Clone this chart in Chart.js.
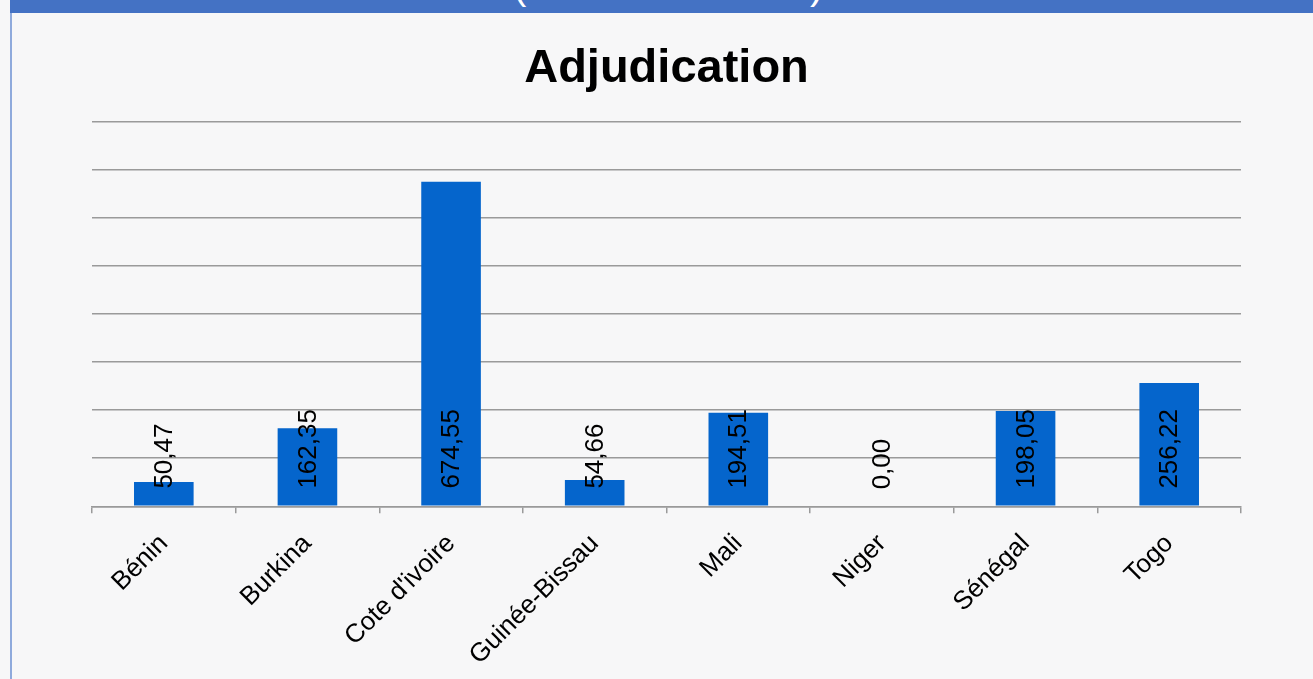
<!DOCTYPE html>
<html>
<head>
<meta charset="utf-8">
<script src="https://cdn.jsdelivr.net/npm/chart.js@4.4.1/dist/chart.umd.min.js"></script>
<style>
  html, body { margin: 0; padding: 0; }
  body {
    width: 1313px; height: 679px; overflow: hidden; position: relative;
    background: #f7f7f8;
    font-family: 'Liberation Sans', Arial, sans-serif;
  }
  #header {
    position: absolute; left: 10px; top: 0; width: 1303px; height: 13px;
    background: #4472c4; overflow: hidden; z-index: 2;
  }
  #header span {
    position: absolute; top: -38px; color: #fff; font-size: 40px; line-height: 46px;
  }
  #leftline {
    position: absolute; left: 10px; top: 13px; width: 2px; height: 666px; background: #8faadc; z-index: 2;
  }
  #wrap { position: absolute; left: 0; top: 0; width: 1313px; height: 686px; }
</style>
</head>
<body>
<div id="header"><span style="left:503px">(</span><span style="left:800px">)</span></div>
<div id="leftline"></div>
<div id="wrap"><canvas id="myChart"></canvas></div>
<script>
// Données du graphique
const pays = ['Bénin', 'Burkina', "Cote d'ivoire", 'Guinée-Bissau', 'Mali', 'Niger', 'Sénégal', 'Togo'];
const adjudication = [50.47, 162.35, 674.55, 54.66, 194.51, 0.00, 198.05, 256.22];
const yTicks = [0, 100, 200, 300, 400, 500, 600, 700, 800];

const police = "'Liberation Sans', Arial, sans-serif";

// Etiquettes verticales dans les barres
const etiquettes = {
    id: 'etiquettes',
    afterDatasetsDraw(chart) {
        const ctx = chart.ctx;
        const meta = chart.getDatasetMeta(0);
        ctx.save();
        ctx.font = '26px ' + police;
        ctx.fillStyle = '#000';
        ctx.textAlign = 'left';
        ctx.textBaseline = 'middle';
        meta.data.forEach((bar, i) => {
            const texte = adjudication[i].toFixed(2).replace('.', ',');
            ctx.save();
            ctx.translate(bar.x + 1, bar.base - 17);
            ctx.rotate(-Math.PI / 2);
            ctx.fillText(texte, 0, 0);
            ctx.restore();
        });
        ctx.restore();
    }
};

const ctx = document.getElementById('myChart').getContext('2d');
new Chart(ctx, {
    type: 'bar',
    data: {
        labels: pays,
        datasets: [{
            label: 'Adjudication',
            data: adjudication,
            backgroundColor: '#0565cc',
            borderWidth: 0,
            categoryPercentage: 1,
            barPercentage: 0.415
        }]
    },
    options: {
        responsive: true,
        maintainAspectRatio: false,
        animation: false,
        layout: { padding: { left: 92, right: 72, top: 20, bottom: 0 } },
        plugins: {
            legend: { display: false },
            tooltip: { enabled: false },
            title: {
                display: true,
                text: 'Adjudication',
                color: '#000',
                font: { family: police, size: 47, weight: 'bold' },
                padding: { top: 21, bottom: 24 }
            }
        },
        scales: {
            x: {
                offset: true,
                grid: {
                    offset: true,
                    drawOnChartArea: false,
                    drawTicks: true,
                    tickLength: 7,
                    color: '#9a9a9a',
                    lineWidth: 1.5
                },
                border: { display: true, color: '#9a9a9a', width: 1.5 },
                ticks: {
                    color: '#000',
                    font: { family: police, size: 26 },
                    minRotation: 45,
                    maxRotation: 45,
                    padding: 15
                }
            },
            y: {
                min: 0,
                max: 800,
                afterBuildTicks(scale) {
                    scale.ticks = yTicks.map(v => ({ value: v }));
                },
                afterFit(scale) { scale.width = 0; },
                ticks: { display: false },
                border: { display: false },
                grid: { color: '#9a9a9a', lineWidth: 1.5, drawTicks: false }
            }
        }
    },
    plugins: [etiquettes]
});
</script>
</body>
</html>
